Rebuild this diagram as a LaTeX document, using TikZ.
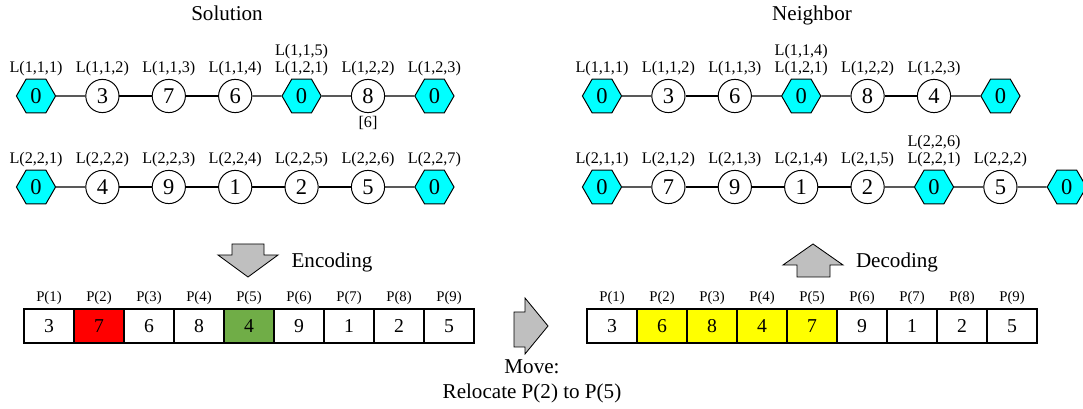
\documentclass[tikz,border=0pt]{standalone}
\usepackage{fontspec}
\setmainfont{Liberation Serif}
\usepackage{xcolor}
\usetikzlibrary{shapes.geometric}

\definecolor{mvgreen}{RGB}{112,173,71}
\definecolor{depotcyan}{RGB}{0,255,255}
\definecolor{mvred}{RGB}{255,0,0}
\definecolor{mvyellow}{RGB}{255,255,0}

\tikzset{
  depot/.style={regular polygon, regular polygon sides=6, minimum size=0.98cm, inner sep=0pt,
    draw, line width=0.7pt, fill=depotcyan, font=\fontsize{16}{16}\selectfont},
  cust/.style={circle, draw, line width=0.7pt, fill=white, minimum size=0.83cm, inner sep=0pt,
    font=\fontsize{16}{16}\selectfont},
  lab/.style={anchor=south, inner sep=1pt, align=center, font=\fontsize{11.5}{12.5}\selectfont},
  link/.style={line width=1pt},
  cell/.style={draw, line width=0.9pt, minimum width=1.25cm, minimum height=0.85cm, inner sep=0pt,
    font=\fontsize{14}{14}\selectfont},
  plab/.style={anchor=south, inner sep=1pt, font=\fontsize{10.5}{11}\selectfont},
  bigarrow/.style={fill=gray!50, draw=black, line width=0.6pt},
  capt/.style={align=center, font=\fontsize{15}{17.7}\selectfont}
}

\begin{document}
\begin{tikzpicture}
    \useasboundingbox (0,0) rectangle (27.075,10.225);

    % titles
    \node[capt, anchor=base] (soltitle) at (5.675,9.7) {Solution};
    \node[capt, anchor=base] (nbtitle) at (20.3,9.7) {Neighbor};

    % solution, first route
    \foreach \v/\s/\t [count=\i] in {0/depot/{L(1,1,1)}, 3/cust/{L(1,1,2)}, 7/cust/{L(1,1,3)},
        6/cust/{L(1,1,4)}, 0/depot/{L(1,1,5)\\L(1,2,1)}, 8/cust/{L(1,2,2)}, 0/depot/{L(1,2,3)}}{
      \node[\s] (sa\i) at ({0.9+1.66*(\i-1)},7.825) {\v};
      \node[lab] (sal\i) at ([yshift=0.45cm]sa\i.center) {\t};
    }
    \foreach \i [count=\j from 2] in {1,...,6} \draw[link] (sa\i) -- (sa\j);
    \node[font=\fontsize{11.5}{12}\selectfont] (sdur) at (9.2,7.15) {[6]};

    % solution, second route
    \foreach \v/\s/\t [count=\i] in {0/depot/{L(2,2,1)}, 4/cust/{L(2,2,2)}, 9/cust/{L(2,2,3)},
        1/cust/{L(2,2,4)}, 2/cust/{L(2,2,5)}, 5/cust/{L(2,2,6)}, 0/depot/{L(2,2,7)}}{
      \node[\s] (sb\i) at ({0.9+1.66*(\i-1)},5.55) {\v};
      \node[lab] (sbl\i) at ([yshift=0.45cm]sb\i.center) {\t};
    }
    \foreach \i [count=\j from 2] in {1,...,6} \draw[link] (sb\i) -- (sb\j);

    % neighbor, first route
    \foreach \v/\s/\t [count=\i] in {0/depot/{L(1,1,1)}, 3/cust/{L(1,1,2)}, 6/cust/{L(1,1,3)},
        0/depot/{L(1,1,4)\\L(1,2,1)}, 8/cust/{L(1,2,2)}, 4/cust/{L(1,2,3)}, 0/depot/{}}{
      \node[\s] (na\i) at ({15.05+1.66*(\i-1)},7.825) {\v};
      \node[lab] (nal\i) at ([yshift=0.45cm]na\i.center) {\t};
    }
    \foreach \i [count=\j from 2] in {1,...,6} \draw[link] (na\i) -- (na\j);

    % neighbor, second route
    \foreach \v/\s/\t [count=\i] in {0/depot/{L(2,1,1)}, 7/cust/{L(2,1,2)}, 9/cust/{L(2,1,3)},
        1/cust/{L(2,1,4)}, 2/cust/{L(2,1,5)}, 0/depot/{L(2,2,6)\\L(2,2,1)}, 5/cust/{L(2,2,2)}, 0/depot/{}}{
      \node[\s] (nb\i) at ({15.05+1.66*(\i-1)},5.55) {\v};
      \node[lab] (nbl\i) at ([yshift=0.45cm]nb\i.center) {\t};
    }
    \foreach \i [count=\j from 2] in {1,...,7} \draw[link] (nb\i) -- (nb\j);

    % encoding / decoding arrows
    \draw[bigarrow] (5.8,4.125) -- (6.6,4.125) -- (6.6,3.85) -- (6.95,3.85) -- (6.2,3.3)
        -- (5.45,3.85) -- (5.8,3.85) -- cycle;
    \node[capt, anchor=base] (enc) at (8.3,3.53) {Encoding};
    \draw[bigarrow] (20.325,4.125) -- (21.075,3.6) -- (20.75,3.6) -- (20.75,3.3) -- (19.925,3.3)
        -- (19.925,3.6) -- (19.575,3.6) -- cycle;
    \node[capt, anchor=base] (dec) at (22.425,3.53) {Decoding};

    % solution string
    \foreach \v/\c [count=\i] in {3/white, 7/mvred, 6/white, 8/white, 4/mvgreen, 9/white, 1/white, 2/white, 5/white}{
      \node[cell, fill=\c] (sc\i) at ({1.225+1.25*(\i-1)},2.075) {\v};
      \node[plab] (sp\i) at ([yshift=0.06cm]sc\i.north) {P(\i)};
    }

    % move arrow
    \draw[bigarrow] (12.85,2.425) -- (13.125,2.425) -- (13.125,2.775) -- (13.7,2.075)
        -- (13.125,1.375) -- (13.125,1.55) -- (12.85,1.55) -- cycle;
    \node[capt] (move) at (13.3,0.69) {Move:\\Relocate P(2) to P(5)};

    % neighbor string
    \foreach \v/\c [count=\i] in {3/white, 6/mvyellow, 8/mvyellow, 4/mvyellow, 7/mvyellow, 9/white, 1/white, 2/white, 5/white}{
      \node[cell, fill=\c] (nc\i) at ({15.3+1.25*(\i-1)},2.075) {\v};
      \node[plab] (np\i) at ([yshift=0.06cm]nc\i.north) {P(\i)};
    }
\end{tikzpicture}
\end{document}
